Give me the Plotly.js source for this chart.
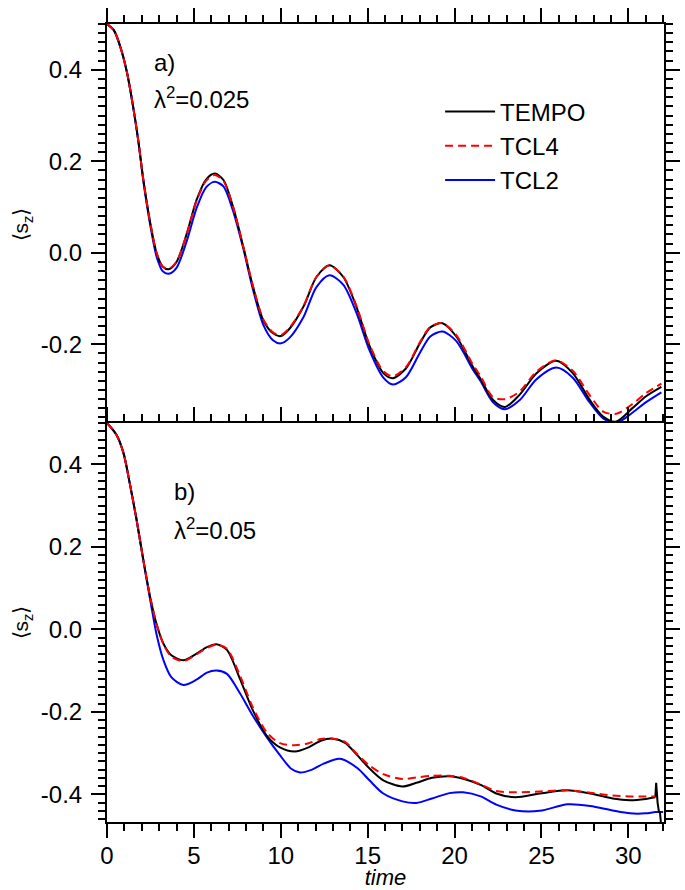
<!DOCTYPE html>
<html>
<head>
<meta charset="utf-8">
<script src="https://cdn.plot.ly/plotly-3.0.1.min.js"></script>
<style>html,body{margin:0;padding:0;background:#fff;}#chart{width:685px;height:890px;}</style>
</head>
<body>
<div id="chart"></div>
<script>
// ---------- Panel a) lambda^2 = 0.025 ----------
var timeA = [0, 0.4, 0.8, 1.15, 1.5, 1.8, 2.1, 2.5, 2.85, 3.2, 3.55, 4.0, 4.6, 5.15, 5.7, 6.2, 6.7, 7.25, 7.85, 8.4, 9.0, 9.55, 10.0, 10.5, 11.3, 12.05, 12.8, 13.6, 14.35, 15.1, 15.9, 16.45, 17.2, 18.0, 18.6, 19.3, 20.1, 21.05, 21.5, 22.2, 22.9, 23.75, 24.7, 25.85, 26.8, 27.75, 28.55, 29.3, 30.25, 31.0, 31.9];
var tempoA = [0.5, 0.486, 0.446, 0.394, 0.320, 0.245, 0.157, 0.063, 0.000, -0.030, -0.036, -0.020, 0.043, 0.115, 0.160, 0.173, 0.159, 0.101, 0.012, -0.074, -0.148, -0.176, -0.182, -0.166, -0.118, -0.053, -0.027, -0.053, -0.118, -0.203, -0.263, -0.274, -0.253, -0.198, -0.163, -0.154, -0.183, -0.249, -0.276, -0.321, -0.337, -0.310, -0.264, -0.236, -0.263, -0.320, -0.358, -0.369, -0.339, -0.314, -0.293];
var tcl4A = [0.5, 0.486, 0.446, 0.394, 0.320, 0.245, 0.157, 0.063, 0.000, -0.030, -0.035, -0.020, 0.042, 0.113, 0.157, 0.170, 0.157, 0.100, 0.012, -0.073, -0.146, -0.174, -0.180, -0.164, -0.117, -0.053, -0.028, -0.052, -0.116, -0.200, -0.259, -0.270, -0.250, -0.196, -0.162, -0.154, -0.180, -0.244, -0.270, -0.315, -0.320, -0.303, -0.260, -0.235, -0.258, -0.310, -0.347, -0.352, -0.330, -0.307, -0.286];
var tcl2A = [0.5, 0.486, 0.446, 0.394, 0.320, 0.245, 0.155, 0.058, -0.008, -0.040, -0.046, -0.033, 0.027, 0.097, 0.143, 0.155, 0.145, 0.092, 0.008, -0.080, -0.158, -0.191, -0.198, -0.186, -0.141, -0.075, -0.049, -0.070, -0.131, -0.213, -0.273, -0.288, -0.272, -0.219, -0.183, -0.172, -0.193, -0.255, -0.281, -0.326, -0.342, -0.322, -0.277, -0.251, -0.273, -0.326, -0.362, -0.372, -0.349, -0.327, -0.305];

// ---------- Panel b) lambda^2 = 0.05 ----------
var timeB = [0, 0.55, 0.95, 1.3, 1.7, 2.1, 2.5, 2.85, 3.25, 3.7, 4.4, 5.15, 5.75, 6.3, 6.9, 7.65, 8.4, 9.2, 9.95, 10.8, 11.6, 12.3, 13.0, 13.7, 14.4, 15.1, 15.9, 17.0, 17.8, 18.7, 19.7, 20.5, 21.5, 22.4, 23.5, 24.9, 26.5, 27.8, 29.1, 30.1, 31.0, 31.55];
var tempoB = [0.5, 0.471, 0.427, 0.356, 0.266, 0.166, 0.075, 0.013, -0.035, -0.063, -0.075, -0.059, -0.043, -0.036, -0.050, -0.120, -0.197, -0.258, -0.286, -0.296, -0.286, -0.270, -0.265, -0.275, -0.305, -0.337, -0.366, -0.381, -0.372, -0.360, -0.356, -0.362, -0.377, -0.398, -0.407, -0.398, -0.390, -0.398, -0.410, -0.414, -0.411, -0.407];
var tcl4B = [0.5, 0.471, 0.427, 0.356, 0.266, 0.166, 0.075, 0.013, -0.036, -0.066, -0.077, -0.061, -0.045, -0.037, -0.047, -0.112, -0.190, -0.250, -0.276, -0.281, -0.276, -0.266, -0.265, -0.273, -0.303, -0.330, -0.351, -0.363, -0.359, -0.355, -0.355, -0.360, -0.376, -0.392, -0.395, -0.393, -0.390, -0.396, -0.403, -0.405, -0.405, -0.405];
var timeB2 = [0, 0.55, 0.95, 1.3, 1.7, 2.1, 2.5, 2.85, 3.25, 3.7, 4.4, 5.15, 5.75, 6.3, 6.9, 7.65, 8.4, 9.2, 9.95, 10.6, 11.1, 11.8, 12.5, 13.4, 14.4, 15.1, 15.9, 17.0, 17.8, 18.7, 19.7, 20.5, 21.5, 22.4, 23.5, 24.9, 26.5, 27.8, 29.1, 30.1, 31.0, 31.55, 32.0];
var tcl2B = [0.5, 0.471, 0.427, 0.356, 0.266, 0.164, 0.068, -0.012, -0.075, -0.116, -0.135, -0.122, -0.105, -0.100, -0.108, -0.155, -0.210, -0.262, -0.305, -0.338, -0.347, -0.340, -0.325, -0.314, -0.336, -0.366, -0.398, -0.417, -0.421, -0.410, -0.397, -0.395, -0.405, -0.425, -0.439, -0.440, -0.424, -0.428, -0.439, -0.446, -0.446, -0.443, -0.443];
// end-of-run glitch of the TEMPO curve in panel b
var timeSpikeB = [31.55, 31.6, 31.68, 31.75, 31.82, 31.9];
var tempoSpikeB = [-0.407, -0.372, -0.420, -0.440, -0.445, -0.480];

// ---------- Axis ticks ----------
var xTickVals = [0, 5, 10, 15, 20, 25, 30];
var xTickText = ['0', '5', '10', '15', '20', '25', '30'];
var yTickValsA = [-0.2, 0, 0.2, 0.4];
var yTickTextA = ['-0.2', '0.0', '0.2', '0.4'];
var yTickValsB = [-0.4, -0.2, 0, 0.2, 0.4];
var yTickTextB = ['-0.4', '-0.2', '0.0', '0.2', '0.4'];

var FONT = 'Liberation Sans, Arial, Helvetica, sans-serif';
var black = '#000000', red = '#ff0000', blue = '#0000ff';
var FS = 24;

function line(x, y, color, dash, name, xa, ya, show, rank, shape) {
  return {
    type: 'scatter', mode: 'lines', x: x, y: y, name: name,
    xaxis: xa, yaxis: ya, showlegend: show, legendrank: rank,
    line: {color: color, width: 2, dash: dash, shape: shape || 'spline', smoothing: 0.8},
    hoverinfo: 'skip'
  };
}

var data = [
  line(timeA, tcl2A, blue, 'solid', 'TCL2', 'x', 'y', true, 3),
  line(timeA, tempoA, black, 'solid', 'TEMPO', 'x', 'y', true, 1),
  line(timeA, tcl4A, red, '8px,5px', 'TCL4', 'x', 'y', true, 2),
  line(timeB2, tcl2B, blue, 'solid', 'TCL2', 'x2', 'y2', false, 3),
  line(timeB, tempoB, black, 'solid', 'TEMPO', 'x2', 'y2', false, 1),
  line(timeSpikeB, tempoSpikeB, black, 'solid', 'TEMPO', 'x2', 'y2', false, 1, 'linear'),
  line(timeB, tcl4B, red, '8px,5px', 'TCL4', 'x2', 'y2', false, 2)
];

function xAxis(anchor, labels) {
  return {
    anchor: anchor, domain: [0, 1], range: [0, 32.05],
    tickmode: 'array', tickvals: xTickVals, ticktext: xTickText,
    showticklabels: labels, ticks: 'outside', ticklen: 14, tickwidth: 2, tickcolor: black,
    ticklabelstandoff: -3,
    minor: {dtick: 1, tick0: 0, ticks: 'outside', ticklen: 7, tickwidth: 2, tickcolor: black, showgrid: false},
    showline: true, linewidth: 2, linecolor: black, mirror: 'allticks',
    showgrid: false, zeroline: false,
    tickfont: {family: FONT, size: FS, color: black}
  };
}
function yAxis(anchor, domain, range, vals, text) {
  return {
    anchor: anchor, domain: domain, range: range,
    tickmode: 'array', tickvals: vals, ticktext: text,
    ticks: 'outside', ticklen: 14, tickwidth: 2, tickcolor: black, ticklabelstandoff: 4,
    minor: {dtick: 0.02, tick0: 0, ticks: 'outside', ticklen: 7, tickwidth: 2, tickcolor: black, showgrid: false},
    showline: true, linewidth: 2, linecolor: black, mirror: 'allticks',
    showgrid: false, zeroline: false,
    tickfont: {family: FONT, size: FS, color: black},
    title: {text: '\u27E8s<sub>z</sub>\u27E9', font: {family: FONT, size: 21, color: black}, standoff: 6}
  };
}

var xa1 = xAxis('y', false);
xa1.matches = 'x2';
var xa2 = xAxis('y2', true);
xa2.title = {text: '<i>time</i>', font: {family: FONT, size: 22, color: black}, standoff: 10};

var layout = {
  width: 685, height: 890,
  margin: {l: 107, r: 21, t: 24, b: 68},
  paper_bgcolor: '#ffffff', plot_bgcolor: '#ffffff',
  font: {family: FONT, size: FS, color: black},
  xaxis: xa1,
  yaxis: yAxis('x', [0.4975, 1], [-0.3764, 0.5], yTickValsA, yTickTextA),
  xaxis2: xa2,
  yaxis2: yAxis('x2', [0, 0.5], [-0.467, 0.5], yTickValsB, yTickTextB),
  showlegend: true,
  legend: {
    x: 0.598, y: 0.918, xanchor: 'left', yanchor: 'top',
    bgcolor: 'rgba(0,0,0,0)', borderwidth: 0,
    font: {family: FONT, size: FS, color: black},
    itemwidth: 50, tracegroupgap: 0
  },
  annotations: [
    {xref: 'x', yref: 'y', x: 2.6, y: 0.415, text: 'a)', showarrow: false, xanchor: 'left', yanchor: 'middle', font: {family: FONT, size: FS, color: black}},
    {xref: 'x', yref: 'y', x: 2.6, y: 0.338, text: '\u03BB<sup>2</sup>=0.025', showarrow: false, xanchor: 'left', yanchor: 'middle', font: {family: FONT, size: FS, color: black}},
    {xref: 'x2', yref: 'y2', x: 3.75, y: 0.333, text: 'b)', showarrow: false, xanchor: 'left', yanchor: 'middle', font: {family: FONT, size: FS, color: black}},
    {xref: 'x2', yref: 'y2', x: 3.75, y: 0.242, text: '\u03BB<sup>2</sup>=0.05', showarrow: false, xanchor: 'left', yanchor: 'middle', font: {family: FONT, size: FS, color: black}}
  ]
};

Plotly.newPlot('chart', data, layout, {staticPlot: true, displayModeBar: false});
</script>
</body>
</html>
